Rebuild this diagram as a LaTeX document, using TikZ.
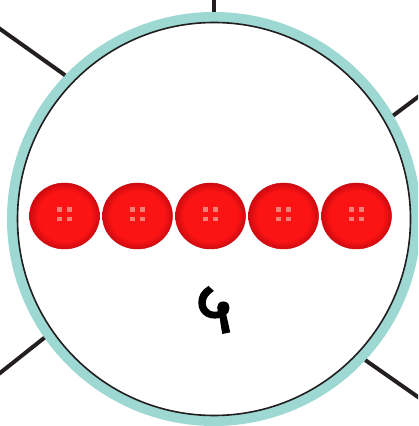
\documentclass[tikz,border=0pt]{standalone}
\usepackage{fontspec}
\newfontfamily\devfont[Script=Devanagari,AutoFakeBold=2.5]{Noto Sans}
\usetikzlibrary{positioning,calc,shapes.geometric}
\definecolor{ringteal}{RGB}{157,216,211}
\definecolor{ballred}{RGB}{252,20,20}
\definecolor{balledge}{RGB}{205,10,16}
\definecolor{holepink}{RGB}{242,128,118}
\definecolor{linegray}{RGB}{35,31,32}
\pgfdeclareradialshading{buttonshade}{\pgfpoint{0bp}{0bp}}{color(0bp)=(ballred); color(19bp)=(ballred); color(25bp)=(balledge); color(50bp)=(balledge)}
\tikzset{
  spoke/.style={draw=linegray,line width=4pt},
  button/.style={ellipse,shading=buttonshade,draw=balledge,line width=0.5pt,minimum width=70pt,minimum height=66pt,inner sep=0pt}
}
\begin{document}
\begin{tikzpicture}[x=1pt,y=1pt]
\useasboundingbox (0,0) rectangle (418,426);
\clip (0,0) rectangle (418,426);
\node[circle,draw=ringteal,line width=11pt,fill=white,minimum size=403pt,inner sep=0pt] (ring) at (214,207) {};
\node[circle,draw=linegray,line width=1.6pt,minimum size=393pt,inner sep=0pt] (rim) at (ring.center) {};
% lines leaving the ring
\foreach \a/\p [count=\i] in {90/{214,432},136/{-2,398.5},30/{420,330.5},215/{-2,51.4},317/{420,27.6}} {
  \coordinate (out\i) at (\p);
  \draw[spoke] (ring.\a) -- (out\i);
}
% five buttons
\foreach \x [count=\i] in {64.5,137.5,210.5,283.5,356.5} {
  \node[button] (ball\i) at (\x,210) {};
  \foreach \dx/\dy in {-5/6.5,5/6.5,-5/-3,5/-3}
    \fill[holepink] ($(ball\i)+(\dx-2.3,\dy-2.3)$) rectangle ++(4.6,4.6);
}
\node[font=\devfont\bfseries\fontsize{72}{72}\selectfont,inner sep=0pt] (five) at (214,116) {५};
\end{tikzpicture}
\end{document}
